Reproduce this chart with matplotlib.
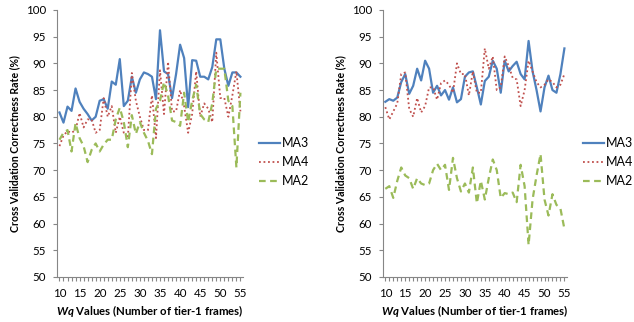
import matplotlib
matplotlib.use("Agg")
import matplotlib.pyplot as plt

plt.rcParams['font.family'] = ['Lato', 'DejaVu Sans']
plt.rcParams['mathtext.fontset'] = 'custom'
plt.rcParams['mathtext.it'] = 'Lato:italic:bold'
plt.rcParams['mathtext.rm'] = 'Lato:bold'

# Wq values (number of tier-1 frames)
wq = list(range(10, 56))

# left chart
left_ma3 = [80.8, 78.9, 81.9, 81.1, 85.3, 82.8, 81.5, 80.5, 79.3, 80.0,
            83.0, 83.3, 81.5, 86.6, 86.0, 90.8, 82.0, 83.0, 87.5, 84.5,
            87.0, 88.3, 88.0, 87.5, 83.3, 96.2, 88.5, 88.0, 83.5, 88.0,
            93.5, 91.0, 81.8, 90.6, 90.5, 87.5, 87.5, 87.0, 89.3, 94.5,
            94.5, 89.0, 85.8, 88.3, 88.3, 87.5]
left_ma4 = [74.5, 76.5, 77.3, 77.0, 77.5, 80.7, 78.0, 79.5, 79.5, 77.0,
            77.5, 83.5, 80.0, 82.0, 77.0, 80.0, 77.0, 76.0, 88.2, 83.0,
            80.0, 77.5, 77.5, 84.0, 76.0, 88.7, 80.5, 90.3, 81.0, 81.0,
            85.0, 82.0, 77.0, 80.5, 88.5, 80.0, 82.5, 81.5, 79.0, 92.0,
            83.5, 83.5, 80.0, 84.0, 88.5, 81.0]
left_ma2 = [75.7, 77.0, 77.5, 73.5, 78.8, 76.0, 74.5, 71.5, 73.8, 75.0,
            73.5, 74.8, 75.7, 75.7, 79.5, 81.7, 79.0, 74.3, 80.3, 76.8,
            79.0, 77.0, 75.5, 73.0, 81.5, 83.0, 86.5, 84.0, 79.3, 79.0,
            78.3, 84.5, 79.0, 83.0, 86.0, 80.5, 79.5, 79.0, 82.5, 89.0,
            89.0, 89.0, 83.0, 82.0, 70.5, 84.5]

# right chart
right_ma3 = [82.8, 83.3, 83.0, 83.6, 86.5, 88.0, 84.3, 85.8, 89.0, 86.8,
             90.5, 89.0, 84.5, 85.8, 84.0, 85.0, 83.2, 85.5, 82.7, 83.3,
             87.5, 88.3, 88.5, 85.5, 82.3, 86.7, 87.5, 90.5, 89.0, 84.5,
             90.5, 88.5, 89.5, 90.3, 88.0, 87.0, 94.2, 88.5, 85.0, 81.0,
             85.5, 87.7, 85.0, 84.5, 88.0, 92.8]
right_ma4 = [81.8, 79.5, 81.0, 82.5, 88.0, 88.3, 81.5, 80.0, 83.5, 80.8,
             82.0, 85.5, 85.5, 83.2, 86.3, 86.8, 86.0, 84.5, 90.0, 88.0,
             88.0, 84.0, 88.5, 84.5, 84.5, 92.8, 89.0, 91.3, 85.0, 85.5,
             91.3, 89.5, 87.3, 87.0, 82.0, 85.0, 90.5, 88.5, 86.5, 85.5,
             86.0, 87.0, 86.5, 85.5, 86.0, 88.0]
right_ma2 = [66.5, 67.0, 64.8, 68.0, 70.5, 69.0, 68.5, 66.5, 68.5, 67.5,
             67.2, 67.5, 70.0, 71.2, 70.0, 71.0, 66.3, 72.3, 68.5, 66.0,
             67.5, 65.8, 70.5, 63.8, 68.0, 64.5, 68.5, 72.0, 70.0, 64.8,
             65.7, 65.5, 65.8, 64.0, 71.0, 67.0, 56.0, 64.5, 69.0, 73.0,
             64.5, 61.5, 65.5, 63.5, 62.8, 59.0]

x_ticks = [10, 15, 20, 25, 30, 35, 40, 45, 50, 55]

fig = plt.figure(figsize=(6.34, 3.22), dpi=100)
ax1 = fig.add_axes([0.090, 0.140, 0.293, 0.829])
ax2 = fig.add_axes([0.604, 0.140, 0.290, 0.829])

for ax, ma3, ma4, ma2 in [(ax1, left_ma3, left_ma4, left_ma2),
                          (ax2, right_ma3, right_ma4, right_ma2)]:
    ax.plot(wq, ma3, color='#4F81BD', lw=1.6, label='MA3')
    ax.plot(wq, ma4, color='#C0504D', lw=1.3, linestyle=(0, (1, 1.5)), label='MA4')
    ax.plot(wq, ma2, color='#9BBB59', lw=1.6, linestyle=(0, (3, 2)), label='MA2')
    ax.set_xlim(9.4, 55.6)
    ax.set_ylim(50, 100)
    ax.set_yticks(range(50, 101, 5))
    ax.set_xticks(x_ticks)
    ax.set_xticks(wq, minor=True)
    for s in ['top', 'right']:
        ax.spines[s].set_visible(False)
    for s in ['left', 'bottom']:
        ax.spines[s].set_color('#868686')
        ax.spines[s].set_linewidth(0.8)
    ax.tick_params(axis='both', which='both', color='#868686', width=0.8,
                   labelsize=8.3, length=3)
    ax.tick_params(axis='y', pad=5)
    ax.tick_params(axis='x', pad=5)
    ax.set_ylabel('Cross Validation Correctness Rate (%)', fontsize=7.6,
                  fontweight='bold', labelpad=4)
    ax.set_xlabel(r'$Wq$ Values (Number of tier-1 frames)', fontsize=8.2,
                  fontweight='bold', labelpad=3)
    ax.legend(loc='center left', bbox_to_anchor=(1.04, 0.43), frameon=False,
              fontsize=9, handlelength=1.7, handletextpad=0.1,
              labelspacing=0.55, borderaxespad=0.3)

fig.savefig('out.png', dpi=100)
